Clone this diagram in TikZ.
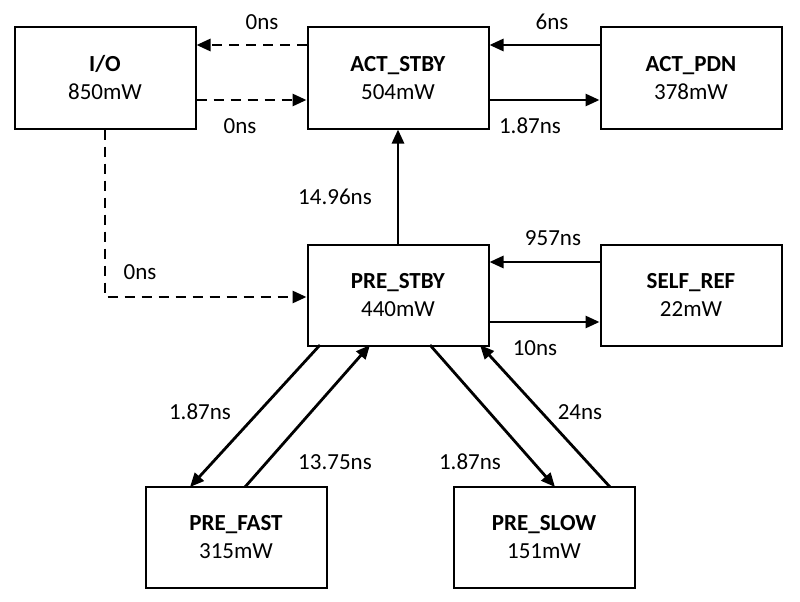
\documentclass[tikz,border=0pt]{standalone}
\usepackage{fontspec}
\setmainfont{Carlito}
\usetikzlibrary{arrows.meta}
\begin{document}
\begin{tikzpicture}[x=1pt,y=-1pt,
  box/.style={draw,line width=2pt,minimum width=181pt,minimum height=101pt,align=center,font=\fontsize{23}{28}\selectfont,inner sep=0pt},
  ar/.style={line width=2.8pt,-{Triangle[length=14pt,width=12pt]}},
  da/.style={ar,dash pattern=on 10pt off 7pt},
  lb/.style={font=\fontsize{23}{28}\selectfont}]
\useasboundingbox (0,0) rectangle (800,602);
\node[box] (io) at (105,78) {\textbf{I/O}\\850mW};
\node[box] (as) at (398,78) {\textbf{ACT\_STBY}\\504mW};
\node[box] (ap) at (691,78) {\textbf{ACT\_PDN}\\378mW};
\node[box] (ps) at (398,295) {\textbf{PRE\_STBY}\\440mW};
\node[box] (sr) at (691,295) {\textbf{SELF\_REF}\\22mW};
\node[box] (pf) at (236,537) {\textbf{PRE\_FAST}\\315mW};
\node[box] (pl) at (544,537) {\textbf{PRE\_SLOW}\\151mW};
\draw[da] (as.west|-0,45) -- (io.east|-0,45);
\draw[da] (io.east|-0,100) -- (as.west|-0,100);
\draw[ar] (ap.west|-0,45) -- (as.east|-0,45);
\draw[ar] (as.east|-0,100) -- (ap.west|-0,100);
\draw[ar] (ps) -- (as);
\draw[da] (io.south) |- (ps.west|-0,297);
\draw[ar] (sr.west|-0,262) -- (ps.east|-0,262);
\draw[ar] (ps.east|-0,322) -- (sr.west|-0,322);
\coordinate (a1) at (320,345); \coordinate (a2) at (190,487);
\coordinate (b1) at (245,487); \coordinate (b2) at (370,345);
\coordinate (c1) at (430,345); \coordinate (c2) at (555,487);
\coordinate (d1) at (610,487); \coordinate (d2) at (480,345);
\draw[ar] (a1) -- (a2);
\draw[ar] (b1) -- (b2);
\draw[ar] (c1) -- (c2);
\draw[ar] (d1) -- (d2);
\node[lb] (l1) at (262,22) {0ns};
\node[lb] (l2) at (240,126) {0ns};
\node[lb] (l3) at (552,22) {6ns};
\node[lb] (l4) at (530,126) {1.87ns};
\node[lb] (l5) at (335,197) {14.96ns};
\node[lb] (l6) at (140,272) {0ns};
\node[lb] (l7) at (553,238) {957ns};
\node[lb] (l8) at (535,348) {10ns};
\node[lb] (l9) at (200,412) {1.87ns};
\node[lb] (l10) at (335,462) {13.75ns};
\node[lb] (l11) at (470,462) {1.87ns};
\node[lb] (l12) at (580,412) {24ns};
\end{tikzpicture}
\end{document}
